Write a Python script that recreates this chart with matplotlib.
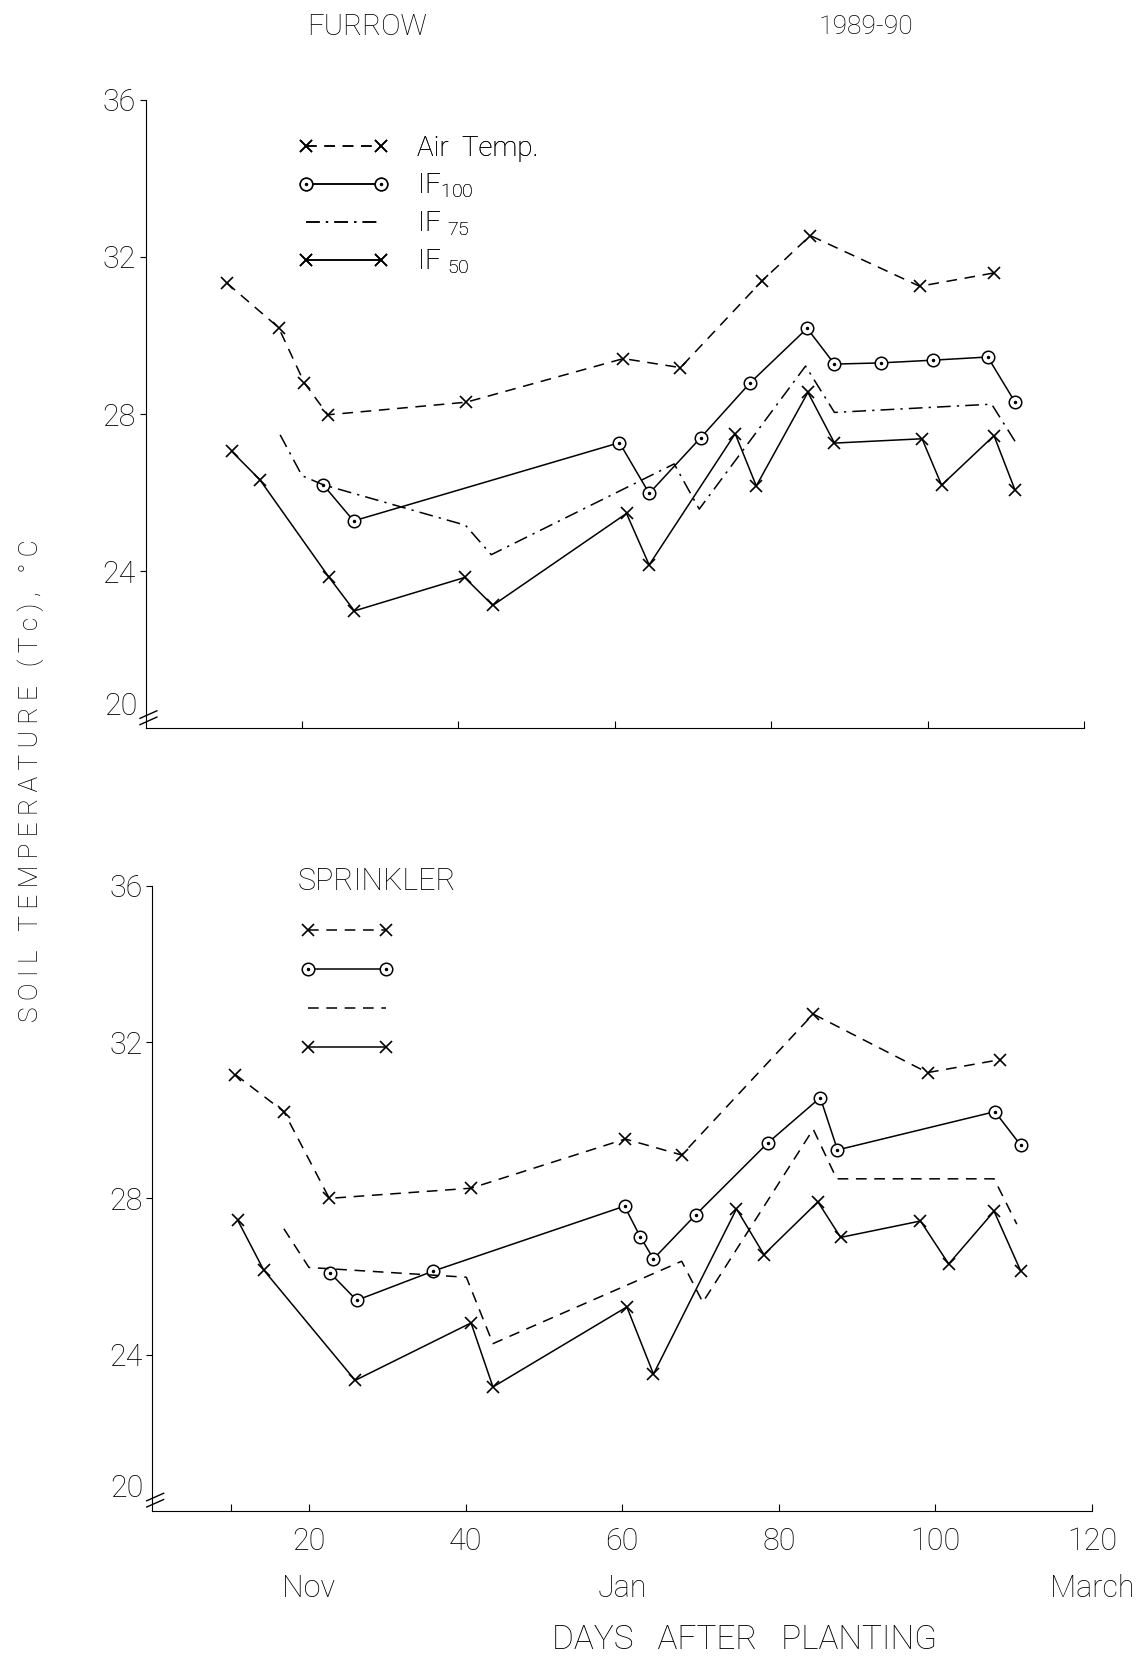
import matplotlib
matplotlib.use('Agg')
import matplotlib.pyplot as plt
import matplotlib as mpl

mpl.rcParams['font.family'] = ['Roboto', 'DejaVu Sans']
mpl.rcParams['font.weight'] = 'light'
mpl.rcParams['mathtext.fontset'] = 'custom'
mpl.rcParams['mathtext.rm'] = 'Roboto:light'
mpl.rcParams['mathtext.it'] = 'Roboto:light'

# Furrow irrigation, 1989-90 (days after planting, deg C)
fur_air_day = [10.4, 17.0, 20.3, 23.3, 41.0, 61.1, 68.4, 78.8, 85.0, 99.0, 108.5]
fur_air_t = [31.33, 30.2, 28.79, 27.98, 28.3, 29.41, 29.18, 31.38, 32.54, 31.25, 31.59]

fur_if100_day = [22.7, 26.6, 60.6, 64.4, 71.0, 77.3, 84.6, 88.1, 94.0, 100.7, 107.7, 111.2]
fur_if100_t = [26.2, 25.28, 27.27, 25.98, 27.4, 28.79, 30.18, 29.27, 29.3, 29.37, 29.45, 28.3]

fur_if75_day = [17.2, 20.0, 22.7, 40.9, 44.2, 67.6, 70.8, 84.4, 88.1, 108.2, 111.4]
fur_if75_t = [27.47, 26.43, 26.2, 25.17, 24.42, 26.73, 25.58, 29.22, 28.04, 28.25, 27.24]

fur_if50_day = [11.0, 14.6, 23.4, 26.7, 40.8, 44.4, 61.5, 64.4, 75.4, 78.1, 84.7, 88.1, 99.3, 101.8, 108.5, 111.2]
fur_if50_t = [27.05, 26.33, 23.86, 22.99, 23.84, 23.13, 25.47, 24.16, 27.5, 26.17, 28.55, 27.26, 27.37, 26.19, 27.45, 26.06]

# Sprinkler irrigation
spr_air_day = [10.6, 16.8, 22.6, 40.7, 60.4, 67.6, 84.4, 99.0, 108.2]
spr_air_t = [31.17, 30.22, 28.0, 28.26, 29.52, 29.11, 32.72, 31.22, 31.55]

spr_if100_day = [22.7, 26.1, 35.9, 60.3, 62.3, 64.0, 69.4, 78.6, 85.3, 87.5, 107.6, 110.9]
spr_if100_t = [26.09, 25.39, 26.14, 27.8, 27.02, 26.45, 27.58, 29.42, 30.58, 29.24, 30.22, 29.36]

spr_if75_day = [16.8, 20.0, 40.1, 43.5, 67.6, 70.3, 84.4, 87.4, 107.5, 110.4]
spr_if75_t = [27.22, 26.23, 25.98, 24.28, 26.39, 25.34, 29.77, 28.5, 28.5, 27.34]

spr_if50_day = [10.9, 14.2, 25.9, 40.7, 43.5, 60.6, 64.0, 74.6, 78.1, 85.0, 87.9, 98.1, 101.7, 107.5, 110.9]
spr_if50_t = [27.44, 26.17, 23.34, 24.81, 23.17, 25.22, 23.5, 27.73, 26.56, 27.91, 27.0, 27.42, 26.32, 27.67, 26.14]

xticks = [20, 40, 60, 80, 100, 120]
yticks = [24, 28, 32, 36]
months = ['Nov', 'Jan', 'March']
month_days = [20, 60, 120]

air_dash = (7, 5)
if75_dash_top = (9, 4, 1.5, 4)
if75_dash_bot = (7, 5)


def draw_panel(ax, air, if100, if75, if50, if75_dash):
    kw = dict(color='k', lw=1.1)
    h_air, = ax.plot(*air, marker='x', ms=9, mew=1.2, dashes=air_dash, **kw)
    h_100, = ax.plot(*if100, marker='o', ms=9, mfc='white', mec='k', mew=1.1, **kw)
    h_dot, = ax.plot(*if100, ls='none', marker='.', ms=3, color='k')
    h_75, = ax.plot(*if75, dashes=if75_dash, **kw)
    h_50, = ax.plot(*if50, marker='x', ms=9, mew=1.2, **kw)

    ax.set_xlim(0, 120)
    ax.set_ylim(20, 36)
    ax.spines['top'].set_visible(False)
    ax.spines['right'].set_visible(False)
    ax.spines['left'].set_bounds(20, 36)
    ax.set_yticks(yticks)
    ax.set_yticklabels([str(v) for v in yticks])
    ax.set_xticks(xticks)
    ax.tick_params(axis='y', direction='out', length=4, labelsize=22, pad=3)
    ax.tick_params(axis='x', direction='in', length=5, labelsize=22, pad=12)

    # "20" label and axis-break strokes at the foot of the y axis
    ax.text(-0.009, 0.012, '20', transform=ax.transAxes, ha='right', va='bottom', fontsize=22)
    for dy in (0.006, 0.016):
        ax.plot([-0.006, 0.012], [dy, dy + 0.012], transform=ax.transAxes,
                color='k', lw=1.0, clip_on=False)
    return h_air, (h_100, h_dot), h_75, h_50


fig = plt.figure(figsize=(11.37, 16.6), dpi=100)
ax1 = fig.add_axes([0.1281, 0.5612, 0.8252, 0.3788])
ax2 = fig.add_axes([0.1340, 0.0899, 0.8264, 0.3764])

hs1 = draw_panel(ax1, (fur_air_day, fur_air_t), (fur_if100_day, fur_if100_t),
                 (fur_if75_day, fur_if75_t), (fur_if50_day, fur_if50_t), if75_dash_top)
hs2 = draw_panel(ax2, (spr_air_day, spr_air_t), (spr_if100_day, spr_if100_t),
                 (spr_if75_day, spr_if75_t), (spr_if50_day, spr_if50_t), if75_dash_bot)

ax1.set_xticklabels([])
ax2.set_xticks([10] + xticks)
ax2.set_xticklabels([''] + [str(v) for v in xticks])

leg1 = ax1.legend(hs1, ['Air  Temp.', 'IF$_{100}$', 'IF $_{75}$', 'IF $_{50}$'],
                  loc='upper left', bbox_to_anchor=(0.15, 0.962), frameon=False,
                  numpoints=2, handlelength=3.3, handletextpad=1.0,
                  labelspacing=0.35, fontsize=20, borderaxespad=0)
ax1.add_artist(leg1)

ax2.text(0.155, 1.03, 'SPRINKLER', transform=ax2.transAxes, fontsize=22, va='top')
ax2.legend(hs2, ['', '', '', ''], loc='upper left', bbox_to_anchor=(0.145, 0.965),
           frameon=False, numpoints=2, handlelength=3.4, labelspacing=0.43,
           fontsize=20, borderaxespad=0)

for d, m in zip(month_days, months):
    ax2.text(d, 18.0, m, ha='center', va='center', fontsize=22)

fig.text(0.323, 0.984, 'FURROW', ha='center', va='center', fontsize=21)
fig.text(0.762, 0.984, '1989-90', ha='center', va='center', fontsize=19)
fig.text(0.027, 0.53, 'S O I L   T E M P E R A T U R E   ( T c ) ,   ° C', rotation=90,
         ha='center', va='center', fontsize=19)
fig.text(0.655, 0.012, 'DAYS   AFTER   PLANTING', ha='center', va='center', fontsize=24)

fig.savefig('out.png', dpi=100)
